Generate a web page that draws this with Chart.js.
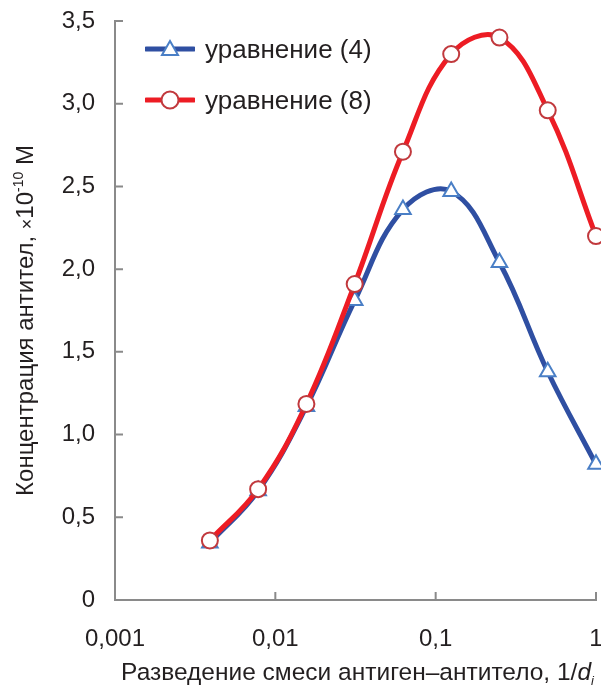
<!DOCTYPE html>
<html lang="ru">
<head>
  <meta charset="UTF-8">
  <title>Концентрация антител</title>
  <style>
    html, body { margin: 0; padding: 0; background: #fff; overflow: hidden; }
    #wrap { position: relative; width: 601px; height: 686px; overflow: hidden; }
    canvas { display: block; }
    .leg { position: absolute; left: 145px; height: 26px; display: flex; align-items: center;
           font-family: "Liberation Sans", Arial, sans-serif; font-size: 26px; color: #231f20; }
    .leg svg { margin-right: 10px; }
  </style>
  <script src="https://cdn.jsdelivr.net/npm/chart.js"></script>
</head>
<body>
  <div id="wrap">
    <canvas id="myChart" width="607" height="686"></canvas>
    <div class="leg" id="leg0" style="top:36px"></div>
    <div class="leg" id="leg1" style="top:87px"></div>
  </div>
  <script>
    // разведения 1/256 ... 1
    const dilution = [1/256, 1/128, 1/64, 1/32, 1/16, 1/8, 1/4, 1/2, 1];
    const eq4 = [0.345, 0.66, 1.17, 1.81, 2.36, 2.47, 2.04, 1.38, 0.82];
    const eq8 = [0.36, 0.67, 1.185, 1.91, 2.71, 3.30, 3.40, 2.96, 2.20];
    const seriesNames = ['уравнение (4)', 'уравнение (8)'];
    const xTicks = [0.001, 0.01, 0.1, 1];
    const yTicks = [0, 0.5, 1, 1.5, 2, 2.5, 3, 3.5];

    const blue = '#2f4fa2', blueMark = '#4a7fc6';
    const red = '#ed1c24', redMark = '#c1393d';
    const axisCol = '#8a8a8a', txt = '#231f20';
    const font = '"Liberation Sans", Arial, sans-serif';

    function pts(ys) {
      return dilution.map((x, i) => ({x: x, y: ys[i]}));
    }

    // легенда: линия + маркер
    function legendIcon(color, mark, shape) {
      let m = shape === 'tri'
        ? '<polygon points="25,5 33,19 17,19" fill="#fff" stroke="' + mark + '" stroke-width="2"/>'
        : '<circle cx="25" cy="13" r="8.5" fill="#fff" stroke="' + mark + '" stroke-width="2"/>';
      return '<svg width="50" height="26"><line x1="1.5" y1="13" x2="48.5" y2="13" stroke="' + color +
        '" stroke-width="5" stroke-linecap="round"/>' + m + '</svg>';
    }
    document.getElementById('leg0').innerHTML = legendIcon(blue, blueMark, 'tri') + '<span>' + seriesNames[0] + '</span>';
    document.getElementById('leg1').innerHTML = legendIcon(red, redMark, 'circ') + '<span>' + seriesNames[1] + '</span>';

    // рисует строку из кусков с разными шрифтами, по центру
    function drawRich(c, parts, cx, cy) {
      let w = 0;
      parts.forEach(p => { c.font = p.f; w += c.measureText(p.t).width; });
      let x = cx - w / 2;
      parts.forEach(p => {
        c.font = p.f;
        c.fillText(p.t, x, cy + (p.dy || 0));
        x += c.measureText(p.t).width;
      });
    }

    // засечки внутрь + подписи осей
    const extras = {
      id: 'extras',
      afterDraw(chart) {
        const c = chart.ctx, x = chart.scales.x, y = chart.scales.y;
        c.save();
        c.strokeStyle = axisCol;
        c.lineWidth = 2;
        c.beginPath();
        xTicks.forEach(v => {
          const px = x.getPixelForValue(v);
          c.moveTo(px, x.top); c.lineTo(px, x.top - 8);
        });
        yTicks.forEach(v => {
          const py = y.getPixelForValue(v);
          c.moveTo(y.right, py); c.lineTo(y.right + 8, py);
        });
        c.stroke();

        c.fillStyle = txt;
        c.textBaseline = 'alphabetic';
        c.textAlign = 'left';
        const area = chart.chartArea;
        drawRich(c, [
          {t: 'Разведение смеси антиген–антитело, 1/', f: '24.5px ' + font},
          {t: 'd', f: 'italic 24.5px ' + font},
          {t: 'i', f: 'italic 13px ' + font, dy: 5}
        ], (area.left + area.right) / 2 + 2, 680);

        c.translate(33, (area.top + area.bottom) / 2 + 10);
        c.rotate(-Math.PI / 2);
        drawRich(c, [
          {t: 'Концентрация антител, ', f: '24px ' + font},
          {t: '×', f: '18px ' + font},
          {t: '10', f: '24px ' + font},
          {t: '-10', f: '14px ' + font, dy: -10},
          {t: ' М', f: '24px ' + font}
        ], 0, 0);
        c.restore();
      }
    };

    const ctx = document.getElementById('myChart').getContext('2d');
    const myChart = new Chart(ctx, {
      type: 'line',
      data: {
        datasets: [{
          label: seriesNames[0],
          data: pts(eq4),
          borderColor: blue,
          borderWidth: 5,
          tension: 0.4,
          pointStyle: 'triangle',
          pointRadius: 9,
          pointBorderWidth: 2,
          pointBorderColor: blueMark,
          pointBackgroundColor: '#fff',
          order: 1,
          clip: false
        }, {
          label: seriesNames[1],
          data: pts(eq8),
          borderColor: red,
          borderWidth: 5,
          tension: 0.4,
          pointStyle: 'circle',
          pointRadius: 8,
          pointBorderWidth: 2,
          pointBorderColor: redMark,
          pointBackgroundColor: '#fff',
          order: 0,
          clip: false
        }]
      },
      options: {
        responsive: false,
        animation: false,
        layout: { padding: { top: 21, right: 0, left: 0, bottom: 0 } },
        plugins: { legend: { display: false }, tooltip: { enabled: false } },
        scales: {
          x: {
            type: 'logarithmic',
            min: 0.001, max: 1,
            afterBuildTicks: s => { s.ticks = xTicks.map(v => ({value: v})); },
            afterFit: s => { s.height = 86; s.paddingLeft = 0; s.paddingRight = 0; },
            grid: { display: false },
            border: { color: axisCol, width: 2 },
            ticks: {
              autoSkip: false, maxRotation: 0, padding: 17,
              color: txt, font: { family: font, size: 24 },
              callback: v => String(v).replace('.', ',')
            }
          },
          y: {
            min: 0, max: 3.5,
            afterBuildTicks: s => { s.ticks = yTicks.map(v => ({value: v})); },
            afterFit: s => { s.width = 115; s.paddingTop = 0; s.paddingBottom = 0; },
            grid: { display: false },
            border: { color: axisCol, width: 2 },
            ticks: {
              padding: 12,
              color: txt, font: { family: font, size: 24 },
              callback: v => v === 0 ? '0' : v.toFixed(1).replace('.', ',')
            }
          }
        }
      },
      plugins: [extras]
    });
  </script>
</body>
</html>
